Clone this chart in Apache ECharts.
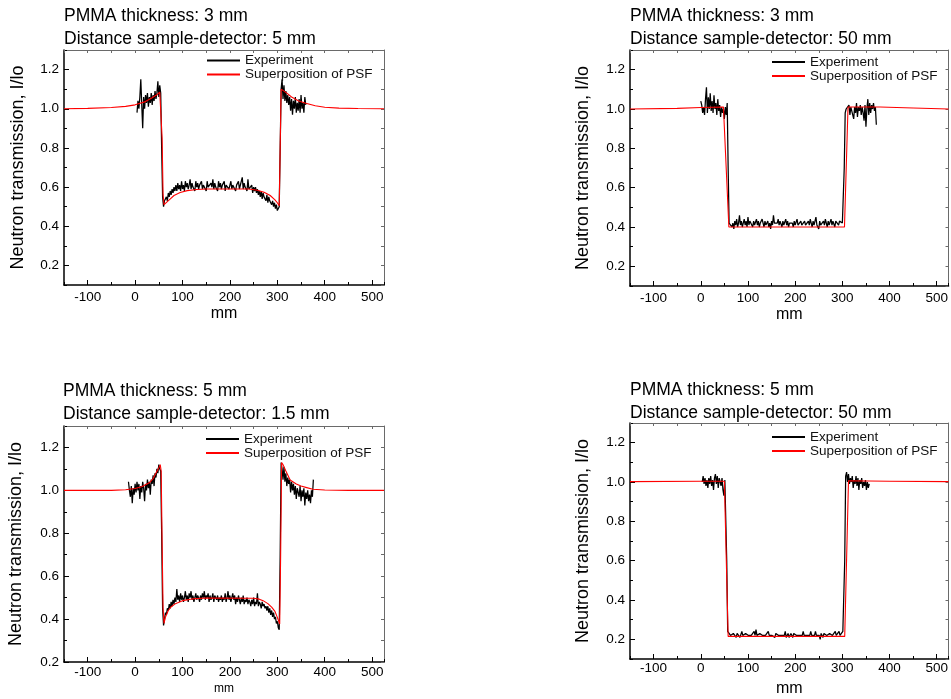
<!DOCTYPE html>
<html>
<head>
<meta charset="utf-8">
<script src="https://cdn.jsdelivr.net/npm/echarts@6/dist/echarts.min.js"></script>
<style>
  html, body { margin: 0; padding: 0; background: #fff; }
  #chart { width: 951px; height: 699px; }
</style>
</head>
<body>
<div id="chart"></div>
<script>
const FONT = '"Liberation Sans", Arial, Helvetica, sans-serif';

// ---- text ----
const panelTitles = [
  ['PMMA thickness: 3 mm', 'Distance sample-detector: 5 mm'],
  ['PMMA thickness: 3 mm', 'Distance sample-detector: 50 mm'],
  ['PMMA thickness: 5 mm', 'Distance sample-detector: 1.5 mm'],
  ['PMMA thickness: 5 mm', 'Distance sample-detector: 50 mm']
];
const seriesNames = ['Experiment', 'Superposition of PSF'];
const xAxisName = 'mm';
const yAxisName = 'Neutron transmission, I/lo';

// ---- axes ----
const xTickLabels = [-100, 0, 100, 200, 300, 400, 500];
const yTickLabels = [0.2, 0.4, 0.6, 0.8, 1.0, 1.2];
const xRange = [-150, 525];
const yRanges = [[0.1, 1.3], [0.1, 1.3], [0.2, 1.3], [0.1, 1.3]];

// ---- measured profiles [mm, I/Io] ----
const exp1 = [[4,0.98],[6,1.04],[8,1.00],[10,1.06],[12,1.15],[14,1.02],[16,0.90],[18,1.06],[20,1.00],[22,1.07],[24,1.03],[26,1.08],[28,1.01],[30,1.06],[32,1.03],[34,1.08],[36,1.02],[38,1.07],[40,1.04],[42,1.09],[44,1.05],[46,1.08],[48,1.14],[50,1.06],[52,1.12],[54,1.08],
[56,0.80],[58,0.55],[60,0.50],[62,0.53],[64,0.52],[66,0.55],[68,0.53],[70,0.57],[72,0.55],[74,0.58],[76,0.56],[78,0.59],[80,0.57],[82,0.60],[84,0.58],[86,0.61],[88,0.58],[90,0.62],[92,0.59],[94,0.61],[96,0.58],[98,0.63],[100,0.59],[102,0.61],[104,0.58],[106,0.63],[108,0.60],[110,0.62],[112,0.59],[114,0.61],[116,0.64],[118,0.59],[120,0.62],[122,0.60],[124,0.61],[126,0.58],[128,0.63],[130,0.60],[132,0.62],[134,0.59],[136,0.61],[138,0.60],[140,0.63],[142,0.59],[144,0.61],[146,0.60],[148,0.62],[150,0.58],[152,0.63],[154,0.60],[156,0.61],[158,0.59],[160,0.62],[162,0.60],[164,0.64],[166,0.59],[168,0.62],[170,0.60],[172,0.61],[174,0.58],[176,0.63],[178,0.60],[180,0.62],[182,0.59],[184,0.61],[186,0.60],[188,0.63],[190,0.58],[192,0.61],[194,0.60],[196,0.62],[198,0.59],[200,0.61],[202,0.63],[204,0.59],[206,0.61],[208,0.60],[210,0.62],[212,0.58],[214,0.61],[216,0.60],[218,0.63],[220,0.59],[222,0.61],[224,0.60],[226,0.65],[228,0.59],[230,0.62],[232,0.60],[234,0.61],[236,0.58],[238,0.64],[240,0.59],[242,0.60],[244,0.58],[246,0.61],[248,0.57],[250,0.60],[252,0.58],[254,0.60],[256,0.57],[258,0.59],[260,0.56],[262,0.58],[264,0.55],[266,0.58],[268,0.54],[270,0.57],[272,0.55],[274,0.56],[276,0.53],[278,0.56],[280,0.52],[282,0.55],[284,0.53],[286,0.54],[288,0.51],[290,0.53],[292,0.50],[294,0.52],[296,0.49],[298,0.51],[300,0.48],[302,0.47],[304,0.50],
[306,0.80],[308,1.10],[310,1.15],[312,1.05],[314,1.12],[316,1.04],[318,1.09],[320,1.03],[322,1.07],[324,1.02],[326,1.06],[328,0.99],[330,1.05],[332,0.97],[334,1.04],[336,1.00],[338,1.06],[340,0.98],[342,1.03],[344,0.99],[346,1.05],[348,0.98],[350,1.07],[352,1.00],[354,1.03],[356,0.98],[358,1.06],[360,1.02]];

const exp2 = [[0,1.04],[2,1.02],[4,0.98],[6,1.01],[8,0.97],[10,1.05],[12,1.11],[14,0.98],[16,1.06],[18,1.00],[20,1.08],[22,0.99],[24,1.04],[26,0.98],[28,1.07],[30,1.00],[32,1.03],[34,0.97],[36,1.05],[38,0.99],[40,1.02],[42,0.96],[44,1.01],[46,0.98],[48,1.00],[50,0.95],[52,1.01],[54,0.97],[56,1.03],
[58,0.70],[60,0.42],[62,0.41],[64,0.43],[66,0.40],[68,0.42],[70,0.39],[72,0.43],[74,0.41],[76,0.44],[78,0.40],[80,0.42],[82,0.46],[84,0.41],[86,0.43],[88,0.40],[90,0.42],[92,0.44],[94,0.41],[96,0.43],[98,0.40],[100,0.45],[102,0.41],[104,0.43],[106,0.42],[108,0.44],[110,0.40],[112,0.43],[114,0.41],[116,0.42],[118,0.44],[120,0.41],[122,0.43],[124,0.40],[126,0.42],[128,0.41],[130,0.44],[132,0.42],[134,0.40],[136,0.43],[138,0.41],[140,0.42],[142,0.43],[144,0.40],[146,0.42],[148,0.39],[150,0.43],[152,0.41],[154,0.46],[156,0.42],[158,0.43],[160,0.41],[162,0.42],[164,0.44],[166,0.41],[168,0.43],[170,0.42],[172,0.40],[174,0.43],[176,0.41],[178,0.42],[180,0.44],[182,0.41],[184,0.43],[186,0.40],[188,0.42],[190,0.43],[192,0.41],[194,0.42],[196,0.40],[198,0.43],[200,0.41],[202,0.42],[204,0.44],[206,0.41],[208,0.42],[210,0.40],[212,0.43],[214,0.41],[216,0.42],[218,0.40],[220,0.43],[222,0.41],[224,0.42],[226,0.40],[228,0.43],[230,0.41],[232,0.44],[234,0.42],[236,0.40],[238,0.43],[240,0.41],[242,0.42],[244,0.45],[246,0.41],[248,0.42],[250,0.39],[252,0.43],[254,0.41],[256,0.42],[258,0.40],[260,0.43],[262,0.41],[264,0.44],[266,0.42],[268,0.40],[270,0.43],[272,0.41],[274,0.42],[276,0.44],[278,0.41],[280,0.43],[282,0.42],[284,0.40],[286,0.43],[288,0.42],[290,0.44],[292,0.41],[294,0.43],[296,0.42],[298,0.44],[300,0.42],[302,0.43],
[304,0.70],[306,0.98],[308,1.00],[310,1.01],[312,0.99],[314,1.02],[316,0.97],[318,1.01],[320,1.00],[322,1.02],[324,0.95],[326,1.01],[328,0.98],[330,1.03],[332,0.96],[334,1.01],[336,0.99],[338,1.02],[340,0.97],[342,1.01],[344,0.98],[346,0.94],[348,1.02],[350,0.91],[352,1.00],[354,1.05],[356,0.97],[358,1.03],[360,0.98],[362,1.02],[364,1.00],[366,1.03],[368,0.99],[370,1.01],[372,0.92]];

const exp3 = [[-14,1.04],[-12,1.00],[-10,0.97],[-8,1.02],[-6,0.94],[-4,1.01],[-2,0.98],[0,1.03],[2,0.99],[4,1.04],[6,1.00],[8,1.03],[10,0.96],[12,1.02],[14,0.99],[16,1.04],[18,1.01],[20,0.95],[22,1.03],[24,1.00],[26,1.05],[28,1.01],[30,1.04],[32,0.98],[34,1.05],[36,1.03],[38,1.07],[40,1.02],[42,1.08],[44,1.06],[46,1.10],[48,1.08],[50,1.12],[52,1.10],[54,1.09],
[56,0.80],[58,0.45],[60,0.37],[62,0.40],[64,0.43],[66,0.42],[68,0.45],[70,0.44],[72,0.47],[74,0.45],[76,0.48],[78,0.46],[80,0.49],[82,0.47],[84,0.50],[86,0.48],[88,0.54],[90,0.49],[92,0.51],[94,0.48],[96,0.52],[98,0.49],[100,0.51],[102,0.48],[104,0.50],[106,0.53],[108,0.49],[110,0.51],[112,0.48],[114,0.52],[116,0.50],[118,0.53],[120,0.49],[122,0.51],[124,0.48],[126,0.50],[128,0.52],[130,0.49],[132,0.51],[134,0.50],[136,0.48],[138,0.51],[140,0.49],[142,0.52],[144,0.50],[146,0.53],[148,0.49],[150,0.51],[152,0.50],[154,0.52],[156,0.48],[158,0.51],[160,0.49],[162,0.50],[164,0.52],[166,0.48],[168,0.51],[170,0.50],[172,0.49],[174,0.51],[176,0.48],[178,0.50],[180,0.49],[182,0.51],[184,0.48],[186,0.50],[188,0.49],[190,0.52],[192,0.48],[194,0.50],[196,0.53],[198,0.49],[200,0.51],[202,0.48],[204,0.50],[206,0.52],[208,0.49],[210,0.51],[212,0.47],[214,0.50],[216,0.48],[218,0.51],[220,0.49],[222,0.47],[224,0.50],[226,0.48],[228,0.51],[230,0.47],[232,0.49],[234,0.48],[236,0.50],[238,0.47],[240,0.49],[242,0.48],[244,0.46],[246,0.49],[248,0.47],[250,0.50],[252,0.46],[254,0.48],[256,0.47],[258,0.52],[260,0.46],[262,0.48],[264,0.47],[266,0.45],[268,0.48],[270,0.46],[272,0.47],[274,0.45],[276,0.46],[278,0.44],[280,0.46],[282,0.43],[284,0.45],[286,0.42],[288,0.44],[290,0.41],[292,0.43],[294,0.40],[296,0.41],[298,0.38],[300,0.39],[302,0.36],[304,0.35],
[306,0.70],[308,1.13],[310,1.10],[312,1.05],[314,1.11],[316,1.04],[318,1.08],[320,1.02],[322,1.06],[324,1.03],[326,1.05],[328,0.99],[330,1.04],[332,1.00],[334,1.03],[336,0.98],[338,1.02],[340,0.96],[342,1.01],[344,0.99],[346,0.97],[348,1.02],[350,0.95],[352,1.00],[354,0.97],[356,1.01],[358,0.93],[360,0.99],[362,0.96],[364,1.00],[366,0.95],[368,0.98],[370,0.94],[372,1.00],[374,0.97],[376,1.05]];

const exp4 = [[3,1.00],[5,1.03],[7,0.99],[9,1.02],[11,0.98],[13,1.01],[15,0.97],[17,1.02],[19,0.99],[21,1.03],[23,0.98],[25,1.01],[27,0.96],[29,1.02],[31,1.04],[33,0.99],[35,1.03],[37,0.97],[39,1.02],[41,1.00],[43,0.98],[45,1.02],[47,0.96],[49,0.93],[51,1.01],[53,1.00],
[55,0.60],[57,0.24],[59,0.23],[61,0.24],[63,0.22],[65,0.23],[67,0.21],[69,0.23],[71,0.22],[73,0.24],[75,0.21],[77,0.23],[79,0.22],[81,0.23],[83,0.21],[85,0.22],[87,0.24],[89,0.22],[91,0.23],[93,0.21],[95,0.23],[97,0.22],[99,0.24],[101,0.22],[103,0.23],[105,0.21],[107,0.22],[109,0.23],[111,0.22],[113,0.24],[115,0.22],[117,0.25],[119,0.22],[121,0.23],[123,0.21],[125,0.23],[127,0.22],[129,0.24],[131,0.22],[133,0.23],[135,0.21],[137,0.22],[139,0.23],[141,0.22],[143,0.24],[145,0.22],[147,0.23],[149,0.21],[151,0.22],[153,0.23],[155,0.22],[157,0.21],[159,0.23],[161,0.22],[163,0.24],[165,0.22],[167,0.23],[169,0.21],[171,0.22],[173,0.23],[175,0.21],[177,0.22],[179,0.24],[181,0.21],[183,0.22],[185,0.23],[187,0.21],[189,0.22],[191,0.23],[193,0.22],[195,0.21],[197,0.23],[199,0.22],[201,0.24],[203,0.22],[205,0.21],[207,0.23],[209,0.22],[211,0.21],[213,0.23],[215,0.22],[217,0.24],[219,0.22],[221,0.21],[223,0.23],[225,0.22],[227,0.21],[229,0.23],[231,0.22],[233,0.24],[235,0.22],[237,0.21],[239,0.23],[241,0.22],[243,0.24],[245,0.22],[247,0.23],[249,0.21],[251,0.22],[253,0.20],[255,0.23],[257,0.22],[259,0.21],[261,0.23],[263,0.22],[265,0.24],[267,0.22],[269,0.23],[271,0.21],[273,0.23],[275,0.22],[277,0.24],[279,0.22],[281,0.23],[283,0.22],[285,0.24],[287,0.22],[289,0.23],[291,0.22],[293,0.24],[295,0.22],[297,0.23],[299,0.22],[301,0.24],[303,0.23],
[305,0.60],[307,1.03],[309,1.05],[311,1.00],[313,1.04],[315,0.99],[317,1.02],[319,1.00],[321,1.03],[323,0.97],[325,1.01],[327,0.99],[329,1.03],[331,0.98],[333,1.02],[335,0.96],[337,1.01],[339,0.99],[341,1.02],[343,0.97],[345,1.00],[347,0.98],[349,1.01],[351,0.96],[353,1.00],[355,0.97],[357,0.99]];

// ---- modelled profiles (superposition of point spread functions) ----
const psf1 = [[-150,1.0],[-100,1.002],[-50,1.006],[-20,1.012],[0,1.02],[20,1.035],[35,1.055],[45,1.07],[52,1.085],[55,1.08],[57,0.85],[59,0.56],[61,0.51],[65,0.515],[72,0.535],[82,0.557],[95,0.572],[110,0.582],[130,0.588],[150,0.59],[240,0.59],[258,0.584],[272,0.574],[285,0.557],[295,0.535],[300,0.52],[304,0.505],[306,0.8],[308,1.1],[312,1.095],[320,1.08],[330,1.06],[345,1.04],[360,1.028],[380,1.015],[400,1.008],[430,1.003],[470,1.001],[525,1.0]];
const psf2 = [[-150,1.0],[-50,1.003],[0,1.008],[48,1.01],[50,1.0],[59.5,0.40],[304.5,0.40],[312,1.01],[380,1.01],[450,1.005],[525,1.0]];
const psf3 = [[-150,1.0],[-50,1.0],[-20,1.003],[0,1.009],[15,1.018],[30,1.035],[38,1.055],[45,1.085],[50,1.105],[53,1.12],[55,1.09],[57,0.75],[59,0.45],[61,0.38],[64,0.41],[70,0.44],[75,0.455],[85,0.472],[100,0.486],[120,0.494],[150,0.498],[250,0.497],[262,0.493],[270,0.486],[280,0.472],[288,0.456],[295,0.436],[300,0.408],[305,0.377],[307,0.7],[309,1.13],[312,1.12],[318,1.09],[327,1.048],[340,1.03],[350,1.02],[360,1.014],[375,1.005],[400,1.002],[450,1.0],[525,1.0]];
const psf4 = [[-150,1.002],[0,1.004],[50,1.004],[58,0.215],[305,0.215],[313,1.006],[400,1.004],[525,1.002]];

const expData = [exp1, exp2, exp3, exp4];
const psfData = [psf1, psf2, psf3, psf4];

// ---- panel placement ----
const layout = [
  { grid: { left: 64,  top: 50,  width: 320, height: 235 }, title: { left: 64,  top: 4.5 },   legend: { left: 206, top: 53.5 }, xNameSize: 16, xNameGap: 21, xLabelMargin: 5, yNameGap: 37 },
  { grid: { left: 630, top: 50,  width: 321, height: 236 }, title: { left: 630, top: 4.5 },   legend: { left: 771, top: 55 },   xNameSize: 16, xNameGap: 21, xLabelMargin: 5, yNameGap: 38 },
  { grid: { left: 64,  top: 426, width: 320, height: 236 }, title: { left: 63,  top: 379.5 }, legend: { left: 205, top: 432 },  xNameSize: 12, xNameGap: 21, xLabelMargin: 3, yNameGap: 39 },
  { grid: { left: 630, top: 423, width: 321, height: 236 }, title: { left: 630, top: 378.5 }, legend: { left: 771, top: 430 },  xNameSize: 16, xNameGap: 22, xLabelMargin: 2, yNameGap: 38 }
];

const AXIS_DARK = '#000';
const AXIS_FRAME = '#6a6a6a';

function xAxesFor(g, L) {
  const base = { gridIndex: g, type: 'value', min: xRange[0], max: xRange[1], splitLine: { show: false } };
  return [
    Object.assign({}, base, {
      position: 'bottom',
      name: xAxisName, nameLocation: 'middle', nameGap: L.xNameGap,
      nameTextStyle: { fontSize: L.xNameSize, fontFamily: FONT, color: '#000' },
      axisLine: { show: true, onZero: false, lineStyle: { color: AXIS_DARK, width: 1.5 } },
      axisTick: { show: true, inside: true, length: 5, customValues: xTickLabels, lineStyle: { color: AXIS_DARK, width: 1 } },
      axisLabel: { show: true, margin: L.xLabelMargin, customValues: xTickLabels, fontSize: 13.5, fontFamily: FONT, color: '#000' }
    }),
    Object.assign({}, base, {
      position: 'bottom', interval: 50,
      axisLine: { show: false, onZero: false },
      axisTick: { show: true, inside: true, length: 3, lineStyle: { color: AXIS_DARK, width: 1 } },
      axisLabel: { show: false }
    }),
    Object.assign({}, base, {
      position: 'top', interval: 50,
      axisLine: { show: true, onZero: false, lineStyle: { color: AXIS_FRAME, width: 1 } },
      axisTick: { show: true, inside: true, length: 3, lineStyle: { color: AXIS_FRAME, width: 1 } },
      axisLabel: { show: false }
    })
  ];
}

function yAxesFor(g, L) {
  const r = yRanges[g];
  const base = { gridIndex: g, type: 'value', min: r[0], max: r[1], splitLine: { show: false } };
  return [
    Object.assign({}, base, {
      position: 'left',
      name: yAxisName, nameLocation: 'middle', nameGap: L.yNameGap,
      nameTextStyle: { fontSize: 18, fontFamily: FONT, color: '#000' },
      axisLine: { show: true, onZero: false, lineStyle: { color: AXIS_DARK, width: 1.5 } },
      axisTick: { show: true, inside: true, length: 5, customValues: yTickLabels, lineStyle: { color: AXIS_DARK, width: 1 } },
      axisLabel: { show: true, margin: 5, customValues: yTickLabels, fontSize: 13.5, fontFamily: FONT, color: '#000',
                   formatter: v => v.toFixed(1) }
    }),
    Object.assign({}, base, {
      position: 'left', interval: 0.1,
      axisLine: { show: false, onZero: false },
      axisTick: { show: true, inside: true, length: 3, lineStyle: { color: AXIS_DARK, width: 1 } },
      axisLabel: { show: false }
    }),
    Object.assign({}, base, {
      position: 'right', interval: 0.1,
      axisLine: { show: true, onZero: false, lineStyle: { color: AXIS_FRAME, width: 1 } },
      axisTick: { show: true, inside: true, length: 3, lineStyle: { color: AXIS_FRAME, width: 1 } },
      axisLabel: { show: false }
    })
  ];
}

const option = {
  animation: false,
  backgroundColor: '#fff',
  textStyle: { fontFamily: FONT },
  title: layout.map((L, g) => ({
    text: panelTitles[g].join('\n'),
    left: L.title.left, top: L.title.top, padding: 0,
    textStyle: { fontSize: 17.5, lineHeight: 23, fontWeight: 'normal', fontFamily: FONT, color: '#000' }
  })),
  // plain line keys, no marker symbol
  legend: layout.map(L => ({
    data: seriesNames,
    orient: 'vertical', left: L.legend.left, top: L.legend.top, padding: 0,
    itemWidth: 33, itemHeight: 12, itemGap: 0,
    itemStyle: { opacity: 0 },
    textStyle: { fontSize: 13.5, lineHeight: 12, fontFamily: FONT, color: '#111' }
  })),
  grid: layout.map(L => Object.assign({ containLabel: false }, L.grid)),
  xAxis: layout.flatMap((L, g) => xAxesFor(g, L)),
  yAxis: layout.flatMap((L, g) => yAxesFor(g, L)),
  series: layout.flatMap((L, g) => [
    {
      type: 'line', name: seriesNames[0], xAxisIndex: 3 * g, yAxisIndex: 3 * g,
      data: expData[g], symbol: 'none', showSymbol: false,
      lineStyle: { color: '#000', width: 1.25 }, itemStyle: { color: '#000' }
    },
    {
      type: 'line', name: seriesNames[1], xAxisIndex: 3 * g, yAxisIndex: 3 * g,
      data: psfData[g], symbol: 'none', showSymbol: false,
      lineStyle: { color: '#ff0000', width: 1.1 }, itemStyle: { color: '#ff0000' }
    }
  ])
};

const chart = echarts.init(document.getElementById('chart'), null, { renderer: 'canvas' });
chart.setOption(option);
</script>
</body>
</html>
